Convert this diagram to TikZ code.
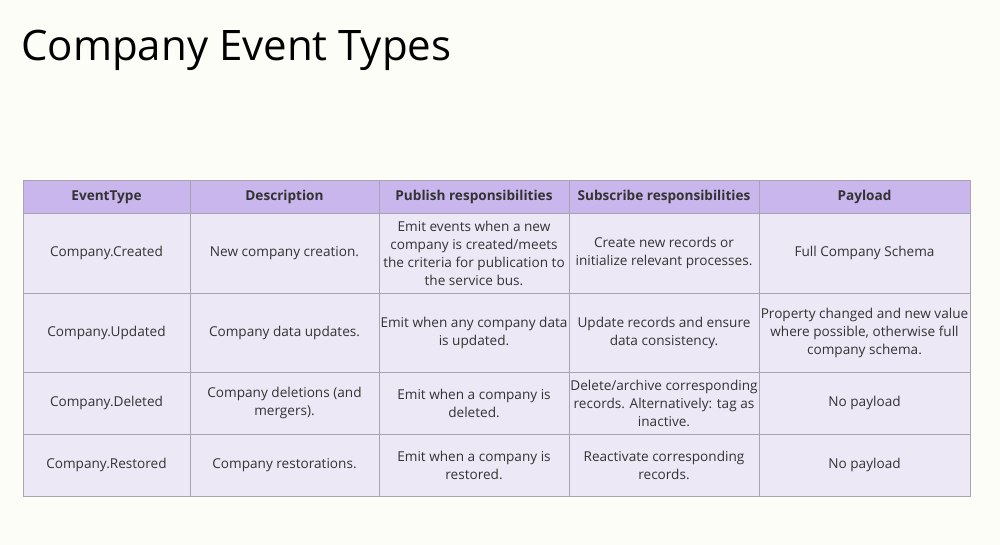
\documentclass[tikz,border=0pt]{standalone}
\usepackage{fontspec}
\setmainfont{Open Sans}
\definecolor{bg}{HTML}{FDFDF8}
\definecolor{hdr}{HTML}{C8B6EC}
\definecolor{cellc}{HTML}{EDE8F6}
\definecolor{gridc}{HTML}{A8A4B0}
\definecolor{txt}{HTML}{333333}
\begin{document}
\begin{tikzpicture}[x=1pt,y=-1pt,
  cell/.style={align=center,font=\fontsize{13.6}{18}\selectfont,text=txt,inner sep=0pt},
  head/.style={cell,font=\fontsize{13.6}{18}\selectfont\bfseries}]
\fill[bg] (0,0) rectangle (1000,545);
\useasboundingbox (0,0) rectangle (1000,545);
\node[anchor=west,font=\fontsize{42}{48}\selectfont,text=black,inner sep=0pt] (title) at (21,50) {Company Event Types};
\fill[cellc] (23,213) rectangle (970,496);
\fill[hdr] (23,180) rectangle (970,213);
\draw[gridc,line width=0.8pt] (23,180) rectangle (970,496);
\foreach \x in {190,379,569,759} \draw[gridc,line width=0.8pt] (\x,180) -- (\x,496);
\foreach \y in {213,293,372,434} \draw[gridc,line width=0.8pt] (23,\y) -- (970,\y);
% header
\node[head] (h1) at (106.5,197) {EventType};
\node[head] (h2) at (284.5,197) {Description};
\node[head] (h3) at (474,197) {Publish responsibilities};
\node[head] (h4) at (664,197) {Subscribe responsibilities};
\node[head] (h5) at (864.5,197) {Payload};
% row 1
\node[cell] (a1) at (106.5,253) {Company.Created};
\node[cell] (b1) at (284.5,253) {New company creation.};
\node[cell] (c1) at (474,253) {Emit events when a new\\company is created/meets\\the criteria for publication to\\the service bus.};
\node[cell] (d1) at (664,253) {Create new records or\\initialize relevant processes.};
\node[cell] (e1) at (864.5,253) {Full Company Schema};
% row 2
\node[cell] (a2) at (106.5,332.5) {Company.Updated};
\node[cell] (b2) at (284.5,332.5) {Company data updates.};
\node[cell] (c2) at (474,332.5) {Emit when any company data\\is updated.};
\node[cell] (d2) at (664,332.5) {Update records and ensure\\data consistency.};
\node[cell] (e2) at (864.5,332.5) {Property changed and new value\\where possible, otherwise full\\company schema.};
% row 3
\node[cell] (a3) at (106.5,403) {Company.Deleted};
\node[cell] (b3) at (284.5,403) {Company deletions (and\\mergers).};
\node[cell] (c3) at (474,403) {Emit when a company is\\deleted.};
\node[cell] (d3) at (664,403) {Delete/archive corresponding\\records. Alternatively: tag as\\inactive.};
\node[cell] (e3) at (864.5,403) {No payload};
% row 4
\node[cell] (a4) at (106.5,465) {Company.Restored};
\node[cell] (b4) at (284.5,465) {Company restorations.};
\node[cell] (c4) at (474,465) {Emit when a company is\\restored.};
\node[cell] (d4) at (664,465) {Reactivate corresponding\\records.};
\node[cell] (e4) at (864.5,465) {No payload};
\end{tikzpicture}
\end{document}
